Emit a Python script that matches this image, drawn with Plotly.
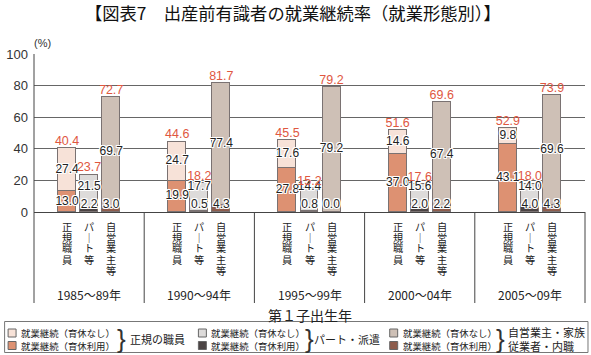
import plotly.graph_objects as go

periods = ["1985～89年", "1990～94年", "1995～99年", "2000～04年", "2005～09年"]
categories = ["正規職員", "パート等", "自営業主等"]

# 育休利用 (lower) and 育休なし (upper), with published totals
seiki_use = [13.0, 19.9, 27.8, 37.0, 43.1]
seiki_nouse = [27.4, 24.7, 17.6, 14.6, 9.8]
seiki_total = [40.4, 44.6, 45.5, 51.6, 52.9]
part_use = [2.2, 0.5, 0.8, 2.0, 4.0]
part_nouse = [21.5, 17.7, 14.4, 15.6, 14.0]
part_total = [23.7, 18.2, 15.2, 17.6, 18.0]
jiei_use = [3.0, 4.3, 0.0, 2.2, 4.3]
jiei_nouse = [69.7, 77.4, 79.2, 67.4, 69.6]
jiei_total = [72.7, 81.7, 79.2, 69.6, 73.9]

legend_groups = ["正規の職員", "パート・派遣", "自営業主・家族<br>従業者・内職"]
legend_items = ["就業継続（育休なし）", "就業継続（育休利用）"]

colors = {
    "seiki": ("#dd9172", "#f7e2d8"),
    "part": ("#4c4444", "#dddbda"),
    "jiei": ("#8d5c4c", "#cec0b6"),
}

W, H = 591, 355
L, R, T, B = 32, 6, 54, 143
pw, ph = W - L - R, H - T - B

def px_x(p):
    return (p - L) / pw

def px_y(p):
    return (H - B - p) / ph

offsets = [-0.2, 0.0, 0.2]
bw = 0.163
label_font = "Liberation Sans, Arial, sans-serif"
jp_font = "Noto Sans CJK JP, sans-serif"
halo = "1px 0 0 #fff, -1px 0 0 #fff, 0 1px 0 #fff, 0 -1px 0 #fff, 1px 1px 0 #fff, -1px -1px 0 #fff, 1px -1px 0 #fff, -1px 1px 0 #fff"

fig = go.Figure()
series = [
    ("seiki", seiki_use, seiki_nouse, seiki_total),
    ("part", part_use, part_nouse, part_total),
    ("jiei", jiei_use, jiei_nouse, jiei_total),
]
for ci, (key, use, nouse, total) in enumerate(series):
    xs = [i + offsets[ci] for i in range(len(periods))]
    c_use, c_no = colors[key]
    fig.add_trace(go.Bar(x=xs, y=use, width=bw, marker=dict(color=c_use, line=dict(color="#7a7272", width=1)), showlegend=False))
    fig.add_trace(go.Bar(x=xs, y=nouse, width=bw, marker=dict(color=c_no, line=dict(color="#7a7272", width=1)), showlegend=False))
    low_y = [max(u / 2, 4.6) for u in use]
    up_y = [max(u + n / 2, ly + 11) for u, n, ly in zip(use, nouse, low_y)]
    top_y = [u + n for u, n in zip(use, nouse)]
    fig.add_trace(go.Scatter(x=xs, y=low_y, mode="text", text=[f"{v:.1f}" for v in use],
                             textfont=dict(size=12, color="#222", family=label_font, shadow=halo), showlegend=False))
    fig.add_trace(go.Scatter(x=xs, y=up_y, mode="text", text=[f"{v:.1f}" for v in nouse],
                             textfont=dict(size=12, color="#222", family=label_font, shadow=halo), showlegend=False))
    fig.add_trace(go.Scatter(x=xs, y=top_y, mode="text", text=[f"{v:.1f}" for v in total], textposition="top center",
                             textfont=dict(size=12.5, color="#e0573f", family=label_font), showlegend=False))

shapes = []
annotations = []
# group dividers below axis
for i in range(len(periods) + 1):
    xp = i / len(periods)
    shapes.append(dict(type="line", xref="paper", yref="paper", x0=xp, x1=xp, y0=(0 if i else 1), y1=px_y(303),
                       line=dict(color="#444", width=1)))
# vertical category labels
for gi, per in enumerate(periods):
    for ci, cat in enumerate(categories):
        chars = cat.replace("ー", "｜")
        for k, ch in enumerate(chars):
            annotations.append(dict(x=gi + offsets[ci], xref="x", y=px_y(226 + 11 * k), yref="paper", text=ch,
                                    showarrow=False, font=dict(size=10.2, color="#222", family=jp_font),
                                    xanchor="center", yanchor="middle"))
    annotations.append(dict(x=gi, xref="x", y=px_y(294), yref="paper", text=per, showarrow=False,
                            font=dict(size=12, color="#222", family=jp_font), xanchor="center", yanchor="middle"))

annotations.append(dict(x=0.5, xref="paper", y=px_y(315), yref="paper", text="第１子出生年", showarrow=False,
                        font=dict(size=14, color="#222", family=jp_font), xanchor="center", yanchor="middle"))
annotations.append(dict(x=px_x(292), xref="paper", y=px_y(13), yref="paper",
                        text="【図表7　出産前有識者の就業継続率（就業形態別）】", showarrow=False,
                        font=dict(size=17.3, color="#111", family=jp_font), xanchor="center", yanchor="middle"))
annotations.append(dict(x=px_x(41), xref="paper", y=px_y(43), yref="paper", text="(%)", showarrow=False,
                        font=dict(size=11, color="#333", family=label_font), xanchor="center", yanchor="middle"))

# legend box
shapes.append(dict(type="rect", xref="paper", yref="paper", x0=px_x(2.5), x1=px_x(588), y0=px_y(321.5), y1=px_y(352.5),
                   line=dict(color="#777", width=1), fillcolor="rgba(0,0,0,0)"))
leg_x = [6, 197, 389]
brace_x = [113, 302, 494]
group_x = [126, 311, 506]
row_y = [333, 345.5]
for gi, key in enumerate(["seiki", "part", "jiei"]):
    c_use, c_no = colors[key]
    for ri, (txt, col) in enumerate(zip(legend_items, [c_no, c_use])):
        shapes.append(dict(type="rect", xref="paper", yref="paper", x0=px_x(leg_x[gi]), x1=px_x(leg_x[gi] + 8),
                           y0=px_y(row_y[ri] - 4), y1=px_y(row_y[ri] + 4), fillcolor=col,
                           line=dict(color="#666", width=1)))
        annotations.append(dict(x=px_x(leg_x[gi] + 11), xref="paper", y=px_y(row_y[ri]), yref="paper", text=txt,
                                showarrow=False, font=dict(size=9.4, color="#222", family=jp_font),
                                xanchor="left", yanchor="middle"))
    annotations.append(dict(x=px_x(brace_x[gi]), xref="paper", y=px_y(338.5), yref="paper", text="}",
                            showarrow=False, font=dict(size=26, color="#333", family="Liberation Sans"),
                            xanchor="left", yanchor="middle"))
    annotations.append(dict(x=px_x(group_x[gi]), xref="paper", y=px_y(339), yref="paper", text=legend_groups[gi],
                            showarrow=False, font=dict(size=11, color="#222", family=jp_font),
                            xanchor="left", yanchor="middle", align="left"))

fig.update_layout(
    width=W, height=H, margin=dict(l=L, r=R, t=T, b=B),
    barmode="stack", bargap=0, plot_bgcolor="white", paper_bgcolor="white",
    xaxis=dict(range=[-0.5, len(periods) - 0.5], showticklabels=False, showgrid=False, zeroline=False,
               showline=True, linecolor="#444", linewidth=1, ticks=""),
    yaxis=dict(range=[0, 100], tickvals=[0, 20, 40, 60, 80, 100], showgrid=True, gridcolor="#666", gridwidth=1,
               zeroline=False, showline=False, ticks="", ticklabelstandoff=5,
               tickfont=dict(size=13, color="#333", family=label_font)),
    shapes=shapes, annotations=annotations, showlegend=False,
)
fig.write_html("out.html", config={"displayModeBar": False},
               post_script="document.body.style.margin='0';document.body.style.overflow='hidden';")
